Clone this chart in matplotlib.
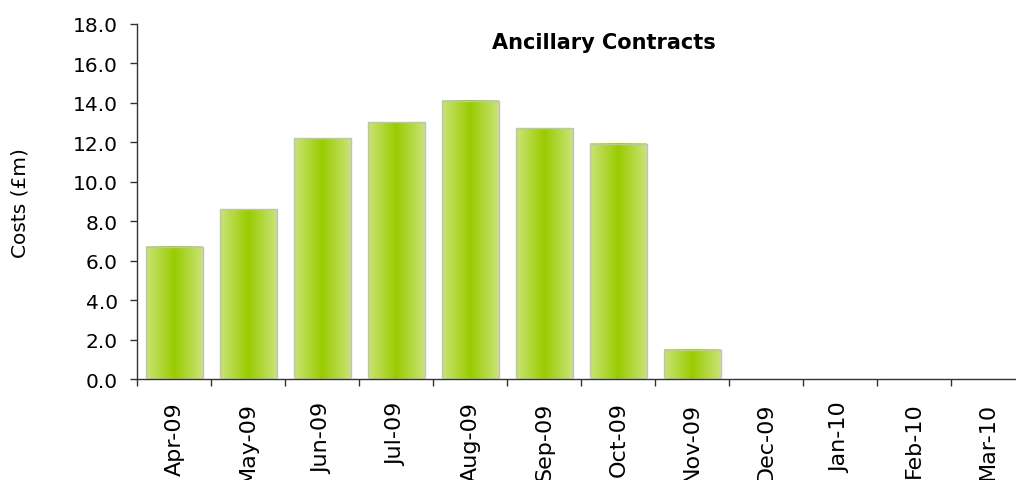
import numpy as np
import matplotlib.pyplot as plt
from matplotlib.colors import LinearSegmentedColormap

months = ['Apr-09', 'May-09', 'Jun-09', 'Jul-09', 'Aug-09', 'Sep-09',
          'Oct-09', 'Nov-09', 'Dec-09', 'Jan-10', 'Feb-10', 'Mar-10']
costs = [6.7, 8.6, 12.2, 13.0, 14.1, 12.7, 11.9, 1.5, 0.0, 0.0, 0.0, 0.0]
yticks = [0, 2, 4, 6, 8, 10, 12, 14, 16, 18]

plt.rcParams['font.family'] = ['DejaVu Sans']

green = LinearSegmentedColormap.from_list(
    'bar_green', [(0.0, '#cae477'), (0.5, '#99cc00'), (1.0, '#cae477')])


def main():
    fig = plt.figure(figsize=(10.16, 4.81), dpi=100)
    ax = fig.add_axes([0.1352, 0.2096, 0.874, 0.7391])

    x = np.arange(len(months))
    w = 0.77
    grad = np.linspace(0, 1, 256).reshape(1, -1)
    for xi, v in zip(x, costs):
        if v <= 0:
            continue
        ax.imshow(grad, cmap=green, aspect='auto', interpolation='bilinear',
                  extent=(xi - w / 2, xi + w / 2, 0, v), zorder=2)
    ax.bar(x, costs, width=w, facecolor='none', edgecolor='#c0c0c0',
           linewidth=1.0, zorder=3)

    ax.set_xlim(-0.5, len(months) - 0.5)
    ax.set_ylim(0, 18)

    ax.set_yticks(yticks)
    ax.set_yticklabels(['%.1f' % t for t in yticks], fontsize=14.5)
    ax.tick_params(axis='y', direction='out', length=5, width=1,
                   color='#333333', pad=9)

    ax.set_xticks(np.arange(len(months) + 1) - 0.5)
    ax.set_xticklabels([])
    ax.tick_params(axis='x', which='major', direction='out', length=5,
                   width=1, color='#333333')
    ax.set_xticks(x, minor=True)
    ax.set_xticklabels(months, minor=True, rotation=90, fontsize=16)
    ax.tick_params(axis='x', which='minor', length=0, pad=16)

    for s in ['top', 'right']:
        ax.spines[s].set_visible(False)
    for s in ['left', 'bottom']:
        ax.spines[s].set_color('#333333')
        ax.spines[s].set_linewidth(1)

    fig.text(20 / 1016, 1 - 203 / 481, 'Costs (£m)', rotation=90,
             fontsize=14.5, ha='center', va='center')
    fig.text(604 / 1016, 1 - 43 / 481, 'Ancillary Contracts',
             fontsize=15, fontweight='bold', ha='center', va='center')

    fig.savefig('out.png', dpi=100)


if __name__ == '__main__':
    main()
